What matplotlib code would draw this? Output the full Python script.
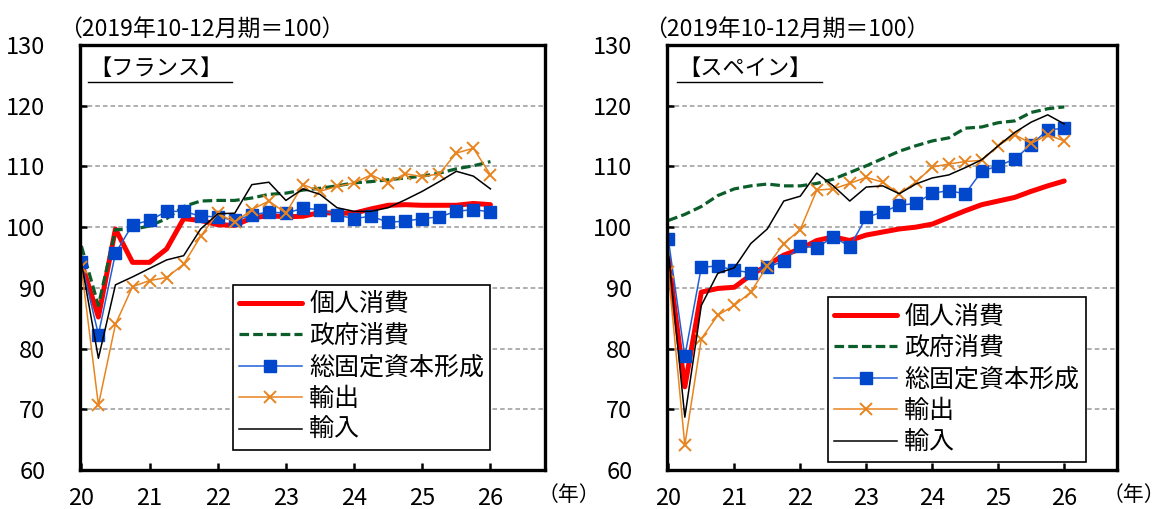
import matplotlib
matplotlib.use('Agg')
import matplotlib.pyplot as plt
import numpy as np

plt.rcParams['font.family'] = ['Liberation Sans Narrow', 'Noto Sans CJK JP', 'DejaVu Sans']

# Quarterly index, 2020Q1 .. 2026Q1 (2019Q4 = 100)
years = ['20', '21', '22', '23', '24', '25', '26']
n_q = 25
x = 20 + np.arange(n_q) / 4

series_names = ['個人消費', '政府消費', '総固定資本形成', '輸出', '輸入']

fr_private = [94.2, 85.2, 99.7, 94.2, 94.2, 96.4, 101.4, 101.1, 100.4, 100.3, 101.5, 101.9, 101.7,
              101.8, 102.4, 102.3, 102.3, 103.0, 103.6, 103.7, 103.6, 103.6, 103.6, 103.9, 103.7]
fr_gov = [96.9, 87.1, 99.6, 99.6, 100.2, 101.4, 103.4, 104.3, 104.4, 104.4, 104.8, 105.4, 105.6,
          106.1, 106.4, 106.8, 107.3, 107.5, 107.8, 108.1, 108.4, 108.9, 109.6, 110.1, 110.8]
fr_gfcf = [94.2, 82.3, 95.7, 100.4, 101.1, 102.6, 102.6, 101.8, 101.7, 101.1, 102.0, 102.5, 102.3,
           103.1, 102.9, 102.0, 101.4, 101.8, 100.8, 101.0, 101.4, 101.7, 102.6, 102.9, 102.5]
fr_export = [93.4, 70.7, 84.0, 90.2, 91.2, 91.7, 93.9, 98.5, 102.3, 100.8, 102.9, 104.3, 102.3,
             107.0, 105.9, 106.7, 107.3, 108.6, 107.3, 108.8, 108.3, 108.8, 112.2, 113.0, 108.6]
fr_import = [94.2, 78.4, 90.5, 91.8, 93.2, 94.6, 95.3, 99.7, 102.2, 102.3, 107.0, 107.4, 104.4,
             106.3, 105.4, 103.2, 102.6, 102.6, 103.2, 104.5, 105.9, 107.5, 109.2, 108.4, 106.3]

es_private = [94.8, 73.7, 89.3, 89.9, 90.1, 92.1, 93.7, 95.4, 96.4, 97.8, 98.4, 97.8, 98.7,
              99.2, 99.7, 100.0, 100.5, 101.6, 102.7, 103.7, 104.3, 104.9, 105.9, 106.8, 107.6]
es_gov = [101.1, 102.1, 103.4, 105.2, 106.3, 106.8, 107.1, 106.8, 106.8, 107.2, 107.9, 109.0, 110.1,
          111.3, 112.5, 113.4, 114.2, 114.7, 116.3, 116.5, 117.2, 117.5, 118.9, 119.5, 119.8]
es_gfcf = [98.0, 78.7, 93.4, 93.6, 92.9, 92.5, 93.4, 94.4, 96.9, 96.6, 98.4, 96.8, 101.6,
           102.5, 103.6, 103.9, 105.6, 106.0, 105.5, 109.2, 110.1, 111.2, 113.6, 116.0, 116.3]
es_export = [92.6, 64.1, 81.6, 85.5, 87.1, 89.3, 93.6, 97.3, 99.6, 106.1, 106.3, 107.2, 108.2,
             107.4, 105.5, 107.4, 109.9, 110.4, 110.8, 111.0, 113.4, 115.2, 113.8, 115.2, 114.2]
es_import = [96.0, 68.7, 87.1, 92.4, 93.3, 97.3, 99.7, 104.3, 105.1, 108.9, 106.8, 104.3, 106.6,
             106.8, 105.5, 107.1, 108.1, 108.6, 109.8, 111.1, 113.4, 115.6, 117.3, 118.5, 117.0]

panels = [
    ('【フランス】', [fr_private, fr_gov, fr_gfcf, fr_export, fr_import]),
    ('【スペイン】', [es_private, es_gov, es_gfcf, es_export, es_import]),
]

styles = [
    dict(color='#FF0000', lw=3.6, solid_capstyle='round'),
    dict(color='#0B5E2A', lw=2.3, ls=(0, (3.0, 1.3))),
    dict(color='#1F5FD6', lw=1.1, marker='s', ms=8, mfc='#0047CC', mec='#0047CC'),
    dict(color='#E8841F', lw=1.1, marker='x', ms=9, mew=1.4),
    dict(color='#000000', lw=1.1),
]

fig = plt.figure(figsize=(11.64, 5.09), dpi=100)
axes_boxes = [(80, 545), (667, 1117)]
legend_pos = [(0.329, 0.435), (0.358, 0.406)]
label_line = [(0.017, 0.327), (0.022, 0.344)]
title_x = [-0.045, -0.05]
year_x = [1.052, 1.037]

for k, (name, data) in enumerate(panels):
    l, r = axes_boxes[k]
    ax = fig.add_axes([l / 1164, 1 - 470 / 509, (r - l) / 1164, 425 / 509])
    for vals, nm, st in zip(data, series_names, styles):
        ax.plot(x, vals, label=nm, **st)

    ax.set_xlim(19.98, 26.8)
    ax.set_ylim(60, 130)
    ax.set_xticks([int(y) for y in years])
    ax.set_xticklabels(years)
    ax.set_yticks(np.arange(60, 131, 10))
    ax.tick_params(direction='in', length=5, width=1.8, labelsize=17)
    ax.tick_params(axis='y', pad=25)
    ax.tick_params(axis='x', pad=12)
    for sp in ax.spines.values():
        sp.set_linewidth(2.4)
    for gy in range(70, 130, 10):
        ax.axhline(gy, color='#999999', lw=1.1, ls=(0, (3, 2)), zorder=0)

    ax.text(title_x[k], 1.038, '（2019年10-12月期＝100）', transform=ax.transAxes,
            ha='left', va='center', fontsize=16.5)
    x0, x1 = label_line[k]
    ax.text(x0 + 0.003, 0.918, name, transform=ax.transAxes, ha='left', va='bottom',
            fontsize=16, family=['Noto Sans CJK JP'])
    ax.plot([x0, x1], [0.913, 0.913], transform=ax.transAxes, color='black', lw=1.0,
            clip_on=False)
    ax.text(year_x[k], -0.059, '（年）', transform=ax.transAxes, ha='center', va='center',
            fontsize=15)

    lx, ly = legend_pos[k]
    leg = ax.legend(loc='upper left', bbox_to_anchor=(lx, ly), borderaxespad=0,
                    handlelength=2.5, handletextpad=0.3, labelspacing=0.22,
                    borderpad=0.25, fancybox=False, framealpha=1, edgecolor='black',
                    prop={'family': ['Noto Sans CJK JP'], 'size': 18})
    leg.get_frame().set_linewidth(1.2)

fig.savefig('out.png', dpi=100)
